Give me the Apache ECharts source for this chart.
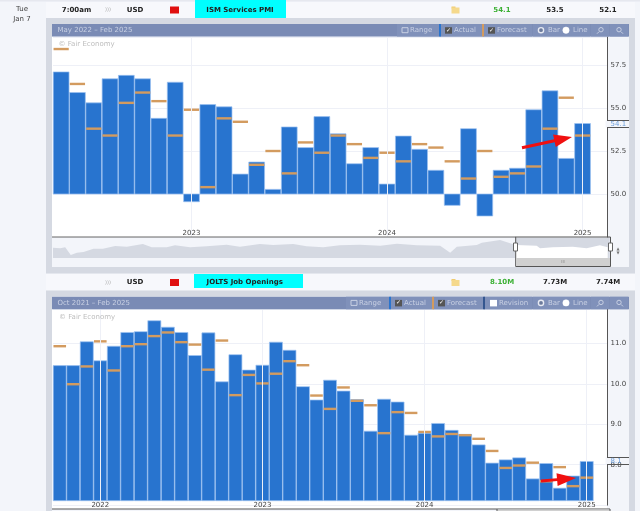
<!DOCTYPE html>
<html><head><meta charset="utf-8">
<style>html,body{margin:0;padding:0;background:#f3f5fa}#c{width:640px;height:511px}</style>
<script src="https://cdn.jsdelivr.net/npm/echarts@6/dist/echarts.min.js"></script>
</head><body><div id="c"></div>
<script>
// ---------- data ----------
const pmiMonths=['2022-05','2022-06','2022-07','2022-08','2022-09','2022-10','2022-11','2022-12','2023-01','2023-02','2023-03','2023-04','2023-05','2023-06','2023-07','2023-08','2023-09','2023-10','2023-11','2023-12','2024-01','2024-02','2024-03','2024-04','2024-05','2024-06','2024-07','2024-08','2024-09','2024-10','2024-11','2024-12','2025-01','2025-02'];
const pmiActual=[57.1,55.9,55.3,56.7,56.9,56.7,54.4,56.5,49.55,55.2,55.07,51.16,51.86,50.27,53.9,52.7,54.5,53.5,51.76,52.7,50.58,53.37,52.6,51.38,49.34,53.8,48.72,51.38,51.5,54.9,56.0,52.07,54.1,null];
const pmiForecast=[58.43,56.4,53.8,53.4,55.3,55.9,55.4,53.4,54.9,50.4,54.4,54.2,51.7,52.5,51.2,53.0,52.4,53.4,52.9,52.1,52.4,51.9,52.9,52.7,51.9,50.9,52.5,51.0,51.2,51.6,53.8,55.6,53.4,null];
const joltsMonths=['2021-10','2021-11','2021-12','2022-01','2022-02','2022-03','2022-04','2022-05','2022-06','2022-07','2022-08','2022-09','2022-10','2022-11','2022-12','2023-01','2023-02','2023-03','2023-04','2023-05','2023-06','2023-07','2023-08','2023-09','2023-10','2023-11','2023-12','2024-01','2024-02','2024-03','2024-04','2024-05','2024-06','2024-07','2024-08','2024-09','2024-10','2024-11','2024-12','2025-01','2025-02'];
const joltsActual=[10.45,10.45,11.04,10.57,10.93,11.27,11.29,11.56,11.40,11.27,10.70,11.26,10.05,10.72,10.34,10.46,11.03,10.83,9.93,9.60,10.09,9.82,9.61,8.83,9.62,9.55,8.73,8.78,9.02,8.85,8.75,8.49,8.04,8.12,8.17,7.65,8.03,7.42,7.72,8.08,null];
const joltsForecast=[10.93,9.99,10.43,11.05,10.33,10.93,10.98,11.18,11.27,11.03,10.97,10.35,11.07,9.72,10.22,10.01,10.25,10.56,10.46,9.71,9.38,9.91,9.58,9.47,8.78,9.30,9.28,8.81,8.70,8.76,8.73,8.64,8.34,7.92,7.98,8.05,7.59,7.94,7.47,7.68,null];
const navPercent=[0,1.3,2.2,3.2,4.3,5.5,7.3,9,11.2,13.3,16.2,17.8,20.5,22,24.7,27.7,31.3,33.7,37.3,39.7,43.3,45.7,48.7,51.7,55.3,59,62,65.6,69.8,71.6,72.8,76.4,77.3,80.6,82.4,83.4,87.2,87.8,90.1,93.7,96.2,98.6,100];
const navLevel=[10.3,9.7,10.7,3,5.3,6,9.3,9.3,12,11.3,14,10.7,10.7,12.7,10.7,11.7,13.3,11.3,14,13,14,11.7,10.7,12.7,13.3,12.3,14.3,12.7,12.3,5.3,11.3,13,15.3,18,14.7,13,12.3,9.7,10.7,11.3,9.7,12.7,10.7];
const navWindowStart=83.4;
const pmiBase=50, joltsBase=7.11;
// ---------- styling ----------
const F='"DejaVu Sans",sans-serif';
const HDR='#7a8bb5',PANEL='#d5d9e2',BG='#f3f5fa',TXT='#c8d0e3';
const back=[],front=[];
const R=(x,y,w,h,fill,list=back,stroke)=>list.push({type:'rect',silent:true,z:list===back?0:100,shape:{x,y,width:w,height:h},style:{fill,stroke:stroke||null,lineWidth:stroke?1:0}});
const T=(x,y,s,o={})=>front.push({type:'text',silent:true,z:101,x,y,style:{text:s,font:`${o.bold?'bold ':''}${o.size||7}px ${F}`,fill:o.color||'#222',align:o.align||'center',verticalAlign:'middle'}});
const L=(x1,y1,x2,y2,c,w=1,list=front)=>list.push({type:'line',silent:true,z:list===back?0:100,shape:{x1,y1,x2,y2},style:{stroke:c,lineWidth:w}});
const C=(cx,cy,r,fill,stroke,w=1)=>front.push({type:'circle',silent:true,z:100,shape:{cx,cy,r},style:{fill,stroke,lineWidth:w}});
const P=(pts,fill)=>front.push({type:'polygon',silent:true,z:102,shape:{points:pts},style:{fill}});

// page chrome
R(0,0,640,511,BG);
R(0,0,640,1.5,'#e6e8ef');
R(46,2,589,16,'#f7f8fc');
R(46,18,589,255.5,PANEL);
R(46,274,589,16.5,'#f7f8fc');
R(46,290.5,589,221,PANEL);
R(52,24,577,243,BG);
R(52,296.5,577,215,BG);
R(52,37,555,200,'#fff');
R(52,309,555,200,'#fff');

function row(y,cyanX,cyanW,cyanY,cyanH,time,title,cx,a,f,p){
  if(time)T(76.5,y,time,{bold:true});
  T(108,y,')))',{color:'#aaa',size:5});
  T(135,y,'USD',{bold:true});
  R(170,y-3.5,9,7,'#e01010',front);
  R(cyanX,cyanY,cyanW,cyanH,'#00ffff',front);
  T(cx,y,title,{bold:true});
  R(451.5,y-3.5,4,2,'#f0cc70',front);
  R(451.5,y-2.5,8,6,'#f5d98c',front);
  T(502,y,a,{bold:true,color:'#3cb034'});
  T(555,y,f,{bold:true});
  T(608,y,p,{bold:true});
}
T(22,9.5,'Tue',{color:'#444'});T(22,19,'Jan 7',{color:'#444'});
row(10,195,91,0,18,'7:00am','ISM Services PMI',240,'54.1','53.5','52.1');
row(282.5,194,109,274,14,'','JOLTS Job Openings',244.7,'8.10M','7.73M','7.74M');

function check(x,y,on){R(x,y-3,7,6.5,on?'#555':'#fff',front);if(on)T(x+3.5,y,'✓',{color:'#fff',size:6});}
function header(y,range,hasRev){
  const m=y+6.2;
  R(52,y,577,12.5,HDR,front);
  T(57.5,m,range,{align:'left',color:TXT});
  const xs=hasRev?[346,390,433,484,533,591,610]:[397,440,483,533,591,610];
  const seg='#8091ba';
  for(let i=0;i<xs.length;i++){const e=i<xs.length-1?xs[i+1]:629;R(xs[i],y,e-xs[i]-.6,12.5,seg,front);}
  const r0=xs[0];
  R(r0+5,m-2.5,6,5,'none',front,TXT);
  T(r0+13,m,'Range',{align:'left',color:TXT});
  R(xs[1]-1,y,2,12.5,'#2a74cd',front);
  check(xs[1]+5,m,true);T(xs[1]+14,m,'Actual',{align:'left',color:TXT});
  R(xs[2]-1,y,2,12.5,'#d39b5f',front);
  check(xs[2]+5,m,true);T(xs[2]+14,m,'Forecast',{align:'left',color:TXT});
  if(hasRev){R(xs[3]-1,y,2,12.5,'#34568f',front);check(xs[3]+6,m,false);T(xs[3]+15,m,'Revision',{align:'left',color:TXT});}
  const b=xs[xs.length-3];
  C(b+8,m,2.6,'#6b7a9c','#e6e9f2',1.4);T(b+15,m,'Bar',{align:'left',color:TXT});
  C(b+33,m,3.2,'#fff','#fff',0.5);T(b+40,m,'Line',{align:'left',color:TXT});
  const z1=xs[xs.length-2],z2=xs[xs.length-1];
  C(z1+10,m-.5,2.2,'none',TXT,1);L(z1+8,m+1.5,z1+6,m+3.5,TXT,1);
  C(z2+9,m-.5,2.2,'none',TXT,1);L(z2+11,m+1.5,z2+13,m+3.5,TXT,1);
}
header(24,'May 2022 – Feb 2025',false);
header(296.7,'Oct 2021 – Feb 2025',true);
T(58.5,44.5,'© Fair Economy',{align:'left',color:'#bdbdbd'});
T(59,317,'© Fair Economy',{align:'left',color:'#bdbdbd'});

// value-axis notches for current value
function notch(y1,y2,label){
  R(605.5,y1,3,y2-y1,BG,front);
  L(607,y1,629,y1,'#555',1);L(607,y2,629,y2,'#555',1);
  T(610.5,(y1+y2)/2,label,{align:'left',color:'#6fa0dc'});
}
notch(120.5,127.5,String(pmiActual[32]));
notch(457.5,464.5,'8.1');

// navigator frame + window
R(515.7,237,94,21,PANEL);
L(52,237,516,237,'#666',1);
L(515.7,237,610.5,237,'#555',1);
L(515.7,237,515.7,266.5,'#555',1);L(610.5,237,610.5,266.5,'#555',1);L(515.7,266.5,610.5,266.5,'#555',1);
R(516,258,94,8,'#d0d0d0',front);
T(563,262,'III',{color:'#888',size:4});
R(513.5,243,4,8,'#fff',front,'#666');R(608.5,243,4,8,'#fff',front,'#666');
T(618,248.5,'▲',{color:'#777',size:4});T(618,253,'▼',{color:'#777',size:4});
L(52,509,497,509,'#555',1);L(497,509,610,509,'#555',1);
R(497.5,509.5,112,2,'#d0d0d0',front);
L(497,509,497,511,'#555',1);L(610,509,610,511,'#555',1);

// red arrows
function arrow(x1,y1,x2,y2,hl,hw,sw){
  const a=Math.atan2(y2-y1,x2-x1),c=Math.cos(a),s=Math.sin(a);
  const bx=x2-hl*c,by=y2-hl*s,n=(d)=>[-s*d,c*d];
  const [na,nb]=n(sw/2),[ha,hb]=n(hw/2);
  P([[x1+na,y1+nb],[bx+na,by+nb],[bx+ha,by+hb],[x2,y2],[bx-ha,by-hb],[bx-na,by-nb],[x1-na,y1-nb]],'#f01010');
}
arrow(522,147.7,572,137,18,13,3);
arrow(541,481,576,478,19,13,3);

// ---------- chart ----------
function barSeries(xi,actual,base){
  return {type:'custom',xAxisIndex:xi,yAxisIndex:xi,z:2,
    data:actual.map((v,i)=>[i,v,base]).filter(d=>d[1]!=null),
    encode:{x:0,y:1},
    renderItem(p,api){
      const i=api.value(0),a=api.coord([i,api.value(2)]),b=api.coord([i,api.value(1)]),w=api.size([1,0])[0];
      return {type:'rect',shape:{x:a[0]-w/2+.25,y:Math.min(a[1],b[1]),width:w-.5,height:Math.abs(a[1]-b[1])},
        style:{fill:'#2874cf',stroke:'#9cc2f0',lineWidth:.7}};
    }};
}
function fcSeries(xi,fc,w){
  return {type:'scatter',xAxisIndex:xi,yAxisIndex:xi,z:3,symbol:'rect',symbolSize:[w,2.4],
    itemStyle:{color:'#d39b5f',opacity:1},data:fc.map((v,i)=>v==null?[i,'-']:[i,v]),silent:true};
}
function gridSeries(xi,months){
  return {type:'line',xAxisIndex:xi,yAxisIndex:xi,z:1,data:months.map(()=>null),silent:true,
    markLine:{silent:true,symbol:'none',animation:false,label:{show:false},lineStyle:{color:'#eef0f7',width:1,type:'solid'},
      data:months.filter(m=>m.endsWith('-01')).map(m=>({xAxis:m}))}};
}
const catAxis=(i,months,margin)=>({type:'category',gridIndex:i,data:months,boundaryGap:true,
  axisLine:{show:false},axisTick:{show:false},splitLine:{show:false},
  axisLabel:{inside:true,margin,interval:(idx,v)=>v.endsWith('-01'),formatter:v=>v.slice(0,4),fontFamily:'DejaVu Sans',fontSize:7,color:'#444',verticalAlign:'middle'}});
const valAxis=(i,min,max,interval)=>({type:'value',gridIndex:i,position:'right',min,max,interval,
  axisLine:{show:true,onZero:false,lineStyle:{color:'#555',width:1}},axisTick:{show:false},
  splitLine:{show:true,lineStyle:{color:'#eef0f7',width:1}},
  axisLabel:{margin:3.5,showMinLabel:false,showMaxLabel:false,formatter:v=>v.toFixed(1),fontFamily:'DejaVu Sans',fontSize:7,color:'#444'}});

const before=navPercent.map((p,i)=>[p,navLevel[i]]).filter(d=>d[0]<=navWindowStart);
const inside=navPercent.map((p,i)=>[p,navLevel[i]]).filter(d=>d[0]>=navWindowStart);
const navS=(data,color)=>({type:'line',xAxisIndex:2,yAxisIndex:2,z:1,data,symbol:'none',silent:true,lineStyle:{width:0},areaStyle:{color,opacity:1}});

const chart=echarts.init(document.getElementById('c'),null,{renderer:'canvas'});
chart.setOption({
  animation:false,backgroundColor:'transparent',
  grid:[
    {left:53,width:554,top:37,height:200},
    {left:53,width:554,top:309,height:196.15},
    {left:53,width:554.7,top:237,height:21}
  ],
  xAxis:[catAxis(0,pmiMonths,4),catAxis(1,joltsMonths,0),{type:'value',gridIndex:2,min:0,max:100,show:false}],
  yAxis:[valAxis(0,47.5,59.13,2.5),valAxis(1,7,11.85,1),{type:'value',gridIndex:2,min:0,max:21,show:false}],
  series:[
    gridSeries(0,pmiMonths),barSeries(0,pmiActual,pmiBase),fcSeries(0,pmiForecast,15.2),
    gridSeries(1,joltsMonths),barSeries(1,joltsActual,joltsBase),fcSeries(1,joltsForecast,12.6),
    navS(before,PANEL),navS(inside,'#ffffff')
  ],
  graphic:{elements:[...back,...front]}
});
</script></body></html>
